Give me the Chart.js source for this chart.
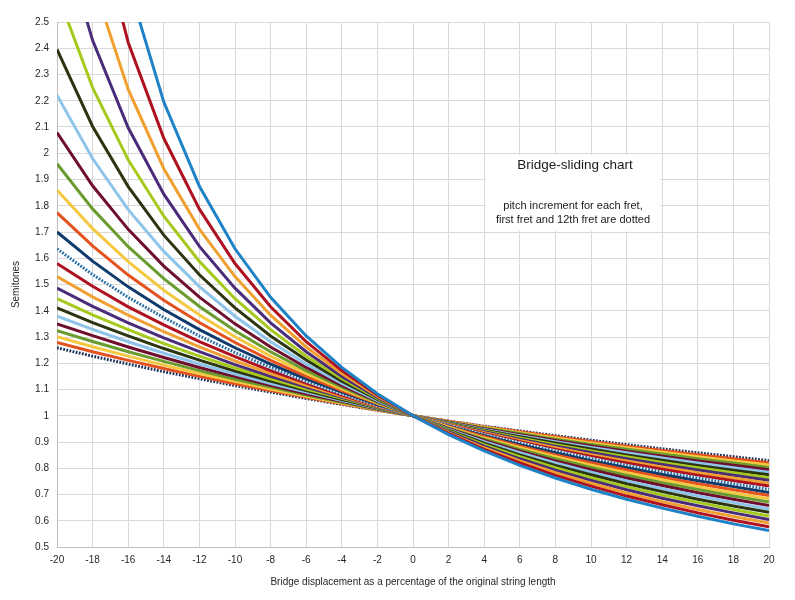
<!DOCTYPE html>
<html>
<head>
<meta charset="utf-8">
<title>Bridge-sliding chart</title>
<script src="https://cdn.jsdelivr.net/npm/chart.js@4.4.1/dist/chart.umd.min.js"></script>
<style>
    html, body { margin: 0; padding: 0; background: #fff; }
</style>
</head>
<body>
<canvas id="bridgeChart" width="795" height="600"></canvas>
<script>
// bridge displacement (% of string length)
var xValues = [-20, -18, -16, -14, -12, -10, -8, -6, -4, -2, 0, 2, 4, 6, 8, 10, 12, 14, 16, 18, 20];

// semitones between fret n-1 and fret n
var fret1  = [1.259, 1.227, 1.197, 1.168, 1.141, 1.115, 1.090, 1.066, 1.043, 1.021, 1, 0.980, 0.960, 0.942, 0.924, 0.907, 0.890, 0.874, 0.859, 0.844, 0.829];
var fret2  = [1.279, 1.244, 1.211, 1.180, 1.150, 1.122, 1.096, 1.070, 1.046, 1.022, 1, 0.979, 0.958, 0.939, 0.920, 0.902, 0.884, 0.868, 0.851, 0.836, 0.821];
var fret3  = [1.301, 1.263, 1.227, 1.193, 1.161, 1.131, 1.102, 1.074, 1.048, 1.024, 1, 0.977, 0.956, 0.935, 0.915, 0.896, 0.878, 0.861, 0.844, 0.828, 0.812];
var fret4  = [1.324, 1.283, 1.244, 1.207, 1.172, 1.139, 1.109, 1.079, 1.051, 1.025, 1, 0.976, 0.953, 0.932, 0.911, 0.891, 0.872, 0.854, 0.836, 0.820, 0.803];
var fret5  = [1.350, 1.305, 1.262, 1.222, 1.184, 1.149, 1.116, 1.084, 1.055, 1.027, 1, 0.975, 0.951, 0.928, 0.906, 0.885, 0.865, 0.846, 0.828, 0.811, 0.794];
var fret6  = [1.379, 1.329, 1.282, 1.238, 1.197, 1.159, 1.123, 1.090, 1.058, 1.028, 1, 0.973, 0.948, 0.924, 0.901, 0.879, 0.859, 0.839, 0.820, 0.802, 0.785];
var fret7  = [1.411, 1.355, 1.304, 1.256, 1.212, 1.170, 1.132, 1.096, 1.062, 1.030, 1, 0.972, 0.945, 0.920, 0.896, 0.873, 0.851, 0.831, 0.811, 0.792, 0.775];
var fret8  = [1.446, 1.384, 1.328, 1.275, 1.227, 1.182, 1.141, 1.102, 1.066, 1.032, 1, 0.970, 0.942, 0.915, 0.890, 0.866, 0.844, 0.822, 0.802, 0.783, 0.764];
var fret9  = [1.486, 1.417, 1.354, 1.297, 1.244, 1.195, 1.150, 1.109, 1.070, 1.034, 1, 0.968, 0.939, 0.911, 0.884, 0.860, 0.836, 0.814, 0.793, 0.773, 0.754];
var fret10 = [1.530, 1.453, 1.383, 1.320, 1.262, 1.209, 1.161, 1.116, 1.074, 1.036, 1, 0.967, 0.935, 0.906, 0.878, 0.852, 0.828, 0.805, 0.783, 0.763, 0.743];
var fret11 = [1.580, 1.493, 1.415, 1.346, 1.282, 1.225, 1.172, 1.124, 1.079, 1.038, 1, 0.965, 0.932, 0.901, 0.872, 0.845, 0.820, 0.796, 0.773, 0.752, 0.732];
var fret12 = [1.636, 1.538, 1.451, 1.374, 1.304, 1.241, 1.184, 1.132, 1.084, 1.040, 1, 0.963, 0.928, 0.896, 0.866, 0.837, 0.811, 0.786, 0.763, 0.741, 0.720];
var fret13 = [1.700, 1.589, 1.491, 1.405, 1.328, 1.259, 1.197, 1.141, 1.090, 1.043, 1, 0.960, 0.924, 0.890, 0.859, 0.829, 0.802, 0.776, 0.752, 0.730, 0.708];
var fret14 = [1.774, 1.647, 1.536, 1.440, 1.355, 1.279, 1.211, 1.150, 1.096, 1.046, 1, 0.958, 0.920, 0.884, 0.851, 0.821, 0.793, 0.766, 0.741, 0.718, 0.696];
var fret15 = [1.860, 1.713, 1.587, 1.478, 1.384, 1.301, 1.227, 1.161, 1.102, 1.048, 1, 0.956, 0.915, 0.878, 0.844, 0.812, 0.783, 0.756, 0.730, 0.706, 0.684];
var fret16 = [1.960, 1.788, 1.644, 1.522, 1.416, 1.324, 1.244, 1.172, 1.109, 1.051, 1, 0.953, 0.911, 0.872, 0.836, 0.803, 0.773, 0.745, 0.719, 0.694, 0.671];
var fret17 = [2.079, 1.876, 1.710, 1.570, 1.452, 1.350, 1.262, 1.184, 1.116, 1.055, 1, 0.951, 0.906, 0.865, 0.828, 0.794, 0.763, 0.734, 0.707, 0.682, 0.658];
var fret18 = [2.221, 1.980, 1.785, 1.626, 1.492, 1.379, 1.282, 1.197, 1.123, 1.058, 1, 0.948, 0.901, 0.859, 0.820, 0.785, 0.752, 0.722, 0.695, 0.669, 0.645];
var fret19 = [2.396, 2.102, 1.873, 1.688, 1.537, 1.411, 1.304, 1.212, 1.132, 1.062, 1, 0.945, 0.896, 0.851, 0.811, 0.775, 0.741, 0.711, 0.682, 0.656, 0.632];
var fret20 = [2.613, 2.250, 1.975, 1.760, 1.588, 1.446, 1.328, 1.227, 1.141, 1.066, 1, 0.942, 0.890, 0.844, 0.802, 0.764, 0.730, 0.698, 0.670, 0.643, 0.618];
var fret21 = [2.890, 2.430, 2.097, 1.844, 1.645, 1.486, 1.354, 1.244, 1.150, 1.070, 1, 0.939, 0.884, 0.836, 0.793, 0.754, 0.718, 0.686, 0.657, 0.630, 0.605];
var fret22 = [3.257, 2.656, 2.243, 1.941, 1.711, 1.530, 1.383, 1.262, 1.161, 1.074, 1, 0.935, 0.878, 0.828, 0.783, 0.743, 0.706, 0.673, 0.643, 0.616, 0.591];
var fret23 = [3.763, 2.947, 2.422, 2.057, 1.787, 1.580, 1.415, 1.282, 1.172, 1.079, 1, 0.932, 0.872, 0.820, 0.773, 0.732, 0.694, 0.661, 0.630, 0.602, 0.577];
var fret24 = [4.506, 3.334, 2.647, 2.195, 1.874, 1.636, 1.451, 1.304, 1.184, 1.084, 1, 0.928, 0.866, 0.811, 0.763, 0.720, 0.682, 0.648, 0.617, 0.588, 0.563];

var frets = [fret1, fret2, fret3, fret4, fret5, fret6, fret7, fret8, fret9, fret10, fret11, fret12,
    fret13, fret14, fret15, fret16, fret17, fret18, fret19, fret20, fret21, fret22, fret23, fret24];

var fretColors = ['#1B2F5C', '#E4521F', '#F5C842', '#6A9B2E', '#6F0F2D', '#8EC4EA', '#2B3611', '#A6C91D', '#4A2C7A', '#F0A031', '#AE111F', '#2A6EA3',
    '#0F3B6C', '#E4521F', '#F5C842', '#6A9B2E', '#6F0F2D', '#8EC4EA', '#2B3611', '#A6C91D', '#4A2C7A', '#F0A031', '#AE111F', '#1E82C6'];

var dottedFrets = [1, 12];

var fontFamily = "'Liberation Sans', Arial, sans-serif";
Chart.defaults.font.family = fontFamily;

function toPoints(values) {
    return values.map(function (y, i) {
        return { x: xValues[i], y: y };
    });
}

var datasets = [];
frets.forEach(function (values, i) {
    var n = i + 1;
    var dotted = dottedFrets.indexOf(n) >= 0;
    if (dotted) {
        // white strip under the dots, so the gaps show white
        datasets.push({
            label: 'fret ' + n + ' base',
            data: toPoints(values),
            borderColor: '#ffffff',
            borderWidth: 3,
            pointRadius: 0,
            tension: 0,
            order: (25 - n) * 2 + 1
        });
    }
    datasets.push({
        label: 'fret ' + n,
        data: toPoints(values),
        borderColor: fretColors[i],
        borderWidth: 3,
        borderDash: dotted ? [1.8, 1.4] : [],
        pointRadius: 0,
        tension: 0,
        order: (25 - n) * 2
    });
});

// text box inside the plot
var noteBox = {
    id: 'noteBox',
    beforeDatasetsDraw: function (chart) {
        var ctx = chart.ctx;
        ctx.save();
        ctx.fillStyle = '#ffffff';
        ctx.fillRect(486, 155, 174, 76);
        ctx.fillStyle = '#1a1a1a';
        ctx.textAlign = 'center';
        ctx.textBaseline = 'middle';
        ctx.font = '13.5px ' + fontFamily;
        ctx.fillText('Bridge-sliding chart', 575, 165);
        ctx.font = '11px ' + fontFamily;
        ctx.fillText('pitch increment for each fret,', 573, 206);
        ctx.fillText('first fret and 12th fret are dotted', 573, 220);
        ctx.restore();
    }
};

var ctx = document.getElementById('bridgeChart');

window.bridgeChart = new Chart(ctx, {
    type: 'line',
    data: { datasets: datasets },
    options: {
        responsive: false,
        animation: false,
        layout: { padding: { top: 22, right: 26, bottom: 0, left: 0 } },
        plugins: {
            legend: { display: false },
            tooltip: { enabled: false }
        },
        scales: {
            x: {
                type: 'linear',
                min: -20,
                max: 20,
                ticks: { stepSize: 2, padding: 7, color: '#262626', font: { size: 10 } },
                grid: { color: '#D9D9D9', drawTicks: false },
                border: { color: '#BFBFBF' },
                title: {
                    display: true,
                    text: 'Bridge displacement as a percentage of the original string length',
                    color: '#262626',
                    font: { size: 10 },
                    padding: { top: 0, bottom: 12 }
                },
                afterFit: function (scale) { scale.height = 53; }
            },
            y: {
                min: 0.5,
                max: 2.5,
                ticks: {
                    stepSize: 0.1,
                    padding: 8,
                    color: '#262626',
                    font: { size: 10 },
                    callback: function (v) { return String(Math.round(v * 10) / 10); }
                },
                grid: { color: '#D9D9D9', drawTicks: false },
                border: { color: '#BFBFBF' },
                title: {
                    display: true,
                    text: 'Semitones',
                    color: '#262626',
                    font: { size: 10 },
                    padding: { top: 10, bottom: 0 }
                },
                afterFit: function (scale) { scale.width = 57; }
            }
        }
    },
    plugins: [noteBox]
});
</script>
</body>
</html>
